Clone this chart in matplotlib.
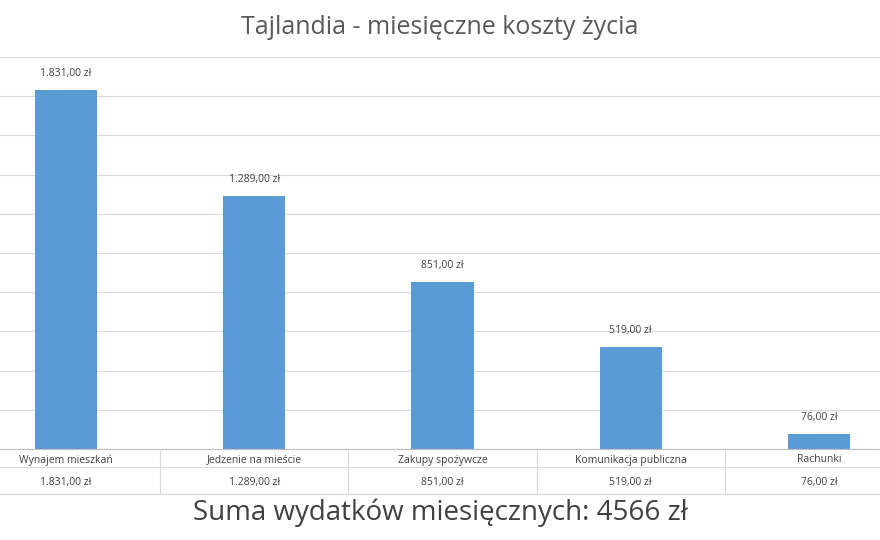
import matplotlib
matplotlib.use("Agg")
import matplotlib.pyplot as plt
from matplotlib.lines import Line2D

categories = ["Wynajem mieszkań", "Jedzenie na mieście", "Zakupy spożywcze", "Komunikacja publiczna", "Rachunki"]
values = [1831, 1289, 851, 519, 76]
labels = ["1.831,00 zł", "1.289,00 zł", "851,00 zł", "519,00 zł", "76,00 zł"]

plt.rcParams['font.family'] = ['Open Sans', 'DejaVu Sans']
W, H = 880, 540
fig = plt.figure(figsize=(8.8, 5.4), dpi=100)
x0, x1 = -28, 913
top, bot = 57, 449
ax = fig.add_axes([x0 / W, 1 - bot / H, (x1 - x0) / W, (bot - top) / H])
n = len(categories)
ax.bar(range(n), values, width=0.33, color="#5B9BD5", zorder=3)
ax.set_xlim(-0.5, n - 0.5)
ax.set_ylim(0, 2000)
ax.set_yticks(range(0, 2001, 200))
ax.grid(axis='y', color="#D9D9D9", lw=0.8, zorder=0)
ax.tick_params(left=False, bottom=False, labelleft=False, labelbottom=False)
for s in ax.spines.values():
    s.set_visible(False)
for i, (v, l) in enumerate(zip(values, labels)):
    ax.annotate(l, (i, v), xytext=(0, 8), textcoords='offset points', ha='center', va='bottom', fontsize=7.5, color="#404040")

# table
def fy(y): return 1 - y / H
fig.add_artist(Line2D([0, 1], [fy(449), fy(449)], color="#BFBFBF", lw=0.8))
fig.add_artist(Line2D([0, 1], [fy(467), fy(467)], color="#D9D9D9", lw=0.8))
fig.add_artist(Line2D([0, 1], [fy(494), fy(494)], color="#D9D9D9", lw=0.8))
for k in range(1, n):
    xb = (x0 + 188.2 * k) / W
    fig.add_artist(Line2D([xb, xb], [fy(449), fy(494)], color="#D9D9D9", lw=0.8))
for i in range(n):
    xc = (x0 + 188.2 * (i + 0.5)) / W
    fig.text(xc, fy(460), categories[i], ha='center', va='center', fontsize=7.5, color="#404040")
    fig.text(xc, fy(482), labels[i], ha='center', va='center', fontsize=7.5, color="#404040")

fig.text(0.5, fy(28), "Tajlandia - miesięczne koszty życia", ha='center', va='center', fontsize=18, color="#595959")
fig.text(0.5, fy(513), "Suma wydatków miesięcznych: 4566 zł", ha='center', va='center', fontsize=20, color="#404040")
fig.savefig("out.png", dpi=100)
